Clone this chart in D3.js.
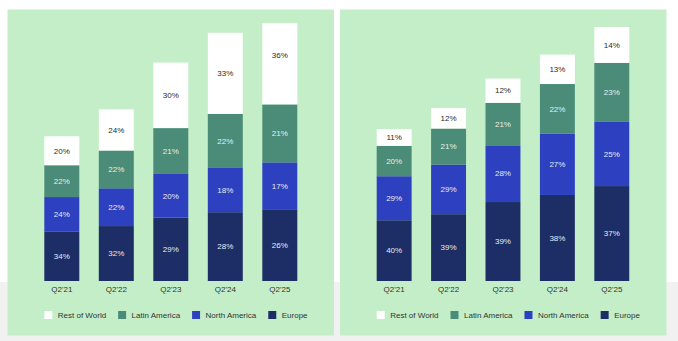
<!DOCTYPE html>
<html><head><meta charset="utf-8">
<script src="https://cdn.jsdelivr.net/npm/d3@7"></script>
<style>
html,body{margin:0;padding:0;background:#fff;}
svg{display:block;font-family:"Liberation Sans",Arial,sans-serif;}
</style></head>
<body><svg id="c" width="678" height="341"></svg>
<script>
const categories = ["Q2'21","Q2'22","Q2'23","Q2'24","Q2'25"];
const regions = ["Europe","North America","Latin America","Rest of World"];
const legendOrder = ["Rest of World","Latin America","North America","Europe"];
// Left chart: totals (millions) and regional shares (%)
const leftTotals = [365, 433, 551, 626, 696];
const leftYMax = 650;
const leftEurope = [34, 32, 29, 28, 26];
const leftNorthAmerica = [24, 22, 20, 18, 17];
const leftLatinAmerica = [22, 22, 21, 22, 21];
const leftRestOfWorld = [20, 24, 30, 33, 36];
// Right chart
const rightTotals = [165, 188, 220, 246, 276];
const rightYMax = 280;
const rightEurope = [40, 39, 39, 38, 37];
const rightNorthAmerica = [29, 29, 28, 27, 25];
const rightLatinAmerica = [20, 21, 21, 22, 23];
const rightRestOfWorld = [11, 12, 12, 13, 14];

const colors = {"Europe":"#1d2d66","North America":"#2d40bf","Latin America":"#4b8c78","Rest of World":"#ffffff"};
const textColors = {"Europe":"#e6ebf2","North America":"#e6ebf2","Latin America":"#e6efe9","Rest of World":"#2a2a2a"};

const svg = d3.select("#c");
svg.append("rect").attr("x",0).attr("y",282).attr("width",678).attr("height",59).attr("fill","#f1f1f1");

function drawPanel(id, px, totals, shares, yMax, x0, x1) {
  svg.append("rect").attr("x",px).attr("y",9.5).attr("width",326.5).attr("height",326).attr("fill","#c4eec8");
  const g = svg.append("g");
  const x = d3.scaleBand().domain(categories).range([x0, x1]).paddingInner(0.358).paddingOuter(0.179);
  const y = d3.scaleLinear().domain([0, yMax]).range([281, 23.3]);
  svg.append("clipPath").attr("id",id).append("rect")
    .attr("x",x0).attr("y",y(yMax)).attr("width",x1-x0).attr("height",y(0)-y(yMax));
  const rows = categories.map((c,i)=>{
    const sum = regions.reduce((s,r)=>s+shares[r][i],0);
    const o = {cat:c, total:totals[i]};
    regions.forEach(r=>{o[r]=totals[i]*shares[r][i]/sum; o[r+"_pct"]=shares[r][i];});
    return o;
  });
  const stack = d3.stack().keys(regions)(rows);
  stack.forEach(layer=>{
    const key = layer.key;
    const lg = g.append("g");
    lg.append("g").attr("clip-path","url(#"+id+")")
      .selectAll("rect").data(layer).join("rect")
      .attr("x",d=>x(d.data.cat)).attr("width",x.bandwidth())
      .attr("y",d=>y(d[1])).attr("height",d=>y(d[0])-y(d[1]))
      .attr("fill",colors[key]);
    lg.selectAll("text").data(layer).join("text")
      .attr("x",d=>x(d.data.cat)+x.bandwidth()/2)
      .attr("y",d=>(y(d[0])+y(d[1]))/2)
      .attr("dy","0.35em").attr("text-anchor","middle")
      .attr("font-size",8).attr("fill",textColors[key])
      .text(d=>d.data[key+"_pct"]+"%");
  });
  const ax = g.append("g").attr("transform","translate(0,281)")
    .call(d3.axisBottom(x).tickSize(0).tickPadding(5));
  ax.select(".domain").remove();
  ax.selectAll("text").attr("font-size",8).attr("fill","#333").attr("font-family","Liberation Sans, Arial, sans-serif");
  // legend
  let lx = x(categories[0]);
  const ly = 315;
  legendOrder.forEach(k=>{
    svg.append("rect").attr("x",lx).attr("y",ly-4).attr("width",8).attr("height",8).attr("fill",colors[k]);
    const t = svg.append("text").attr("x",lx+13.5).attr("y",ly).attr("dy","0.35em")
      .attr("font-size",8).attr("fill","#333").text(k);
    lx += 13.5 + t.node().getComputedTextLength() + 12;
  });
}

drawPanel("clipL", 7.5, leftTotals, {"Europe":leftEurope,"North America":leftNorthAmerica,"Latin America":leftLatinAmerica,"Rest of World":leftRestOfWorld}, leftYMax, 34.55, 307.05);
drawPanel("clipR", 340, rightTotals, {"Europe":rightEurope,"North America":rightNorthAmerica,"Latin America":rightLatinAmerica,"Rest of World":rightRestOfWorld}, rightYMax, 366.95, 639.0);
</script></body></html>
